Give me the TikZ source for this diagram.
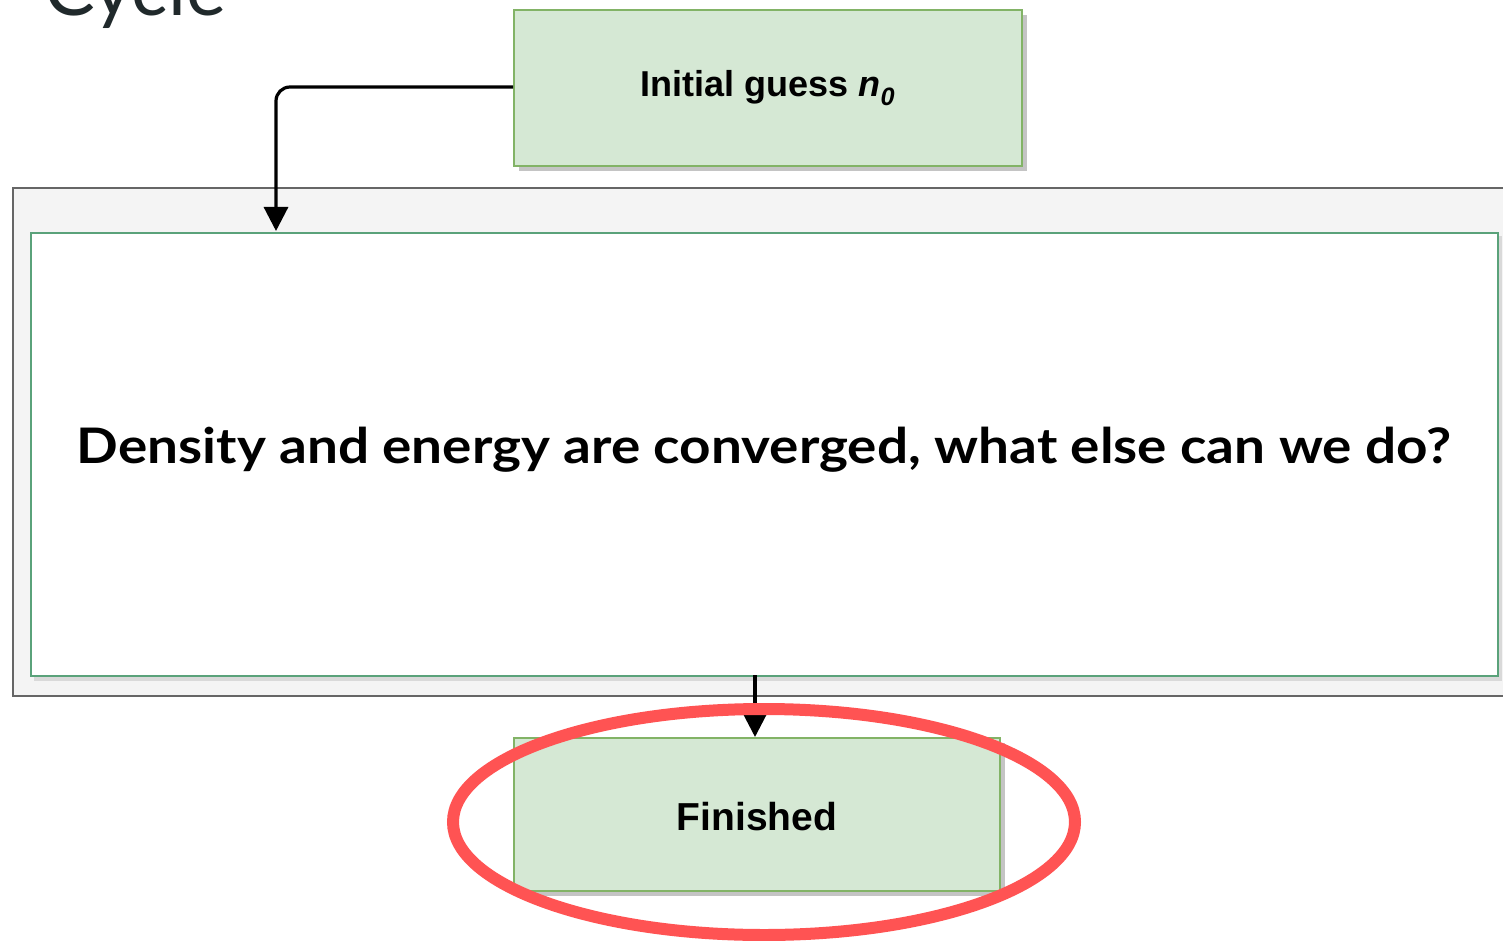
\documentclass[tikz,border=0pt]{standalone}
\usepackage{fontspec}
\setmainfont{Liberation Sans}
\newfontfamily\latofont{Lato}
\usetikzlibrary{arrows.meta}
\definecolor{gfill}{HTML}{D5E8D4}
\definecolor{gline}{HTML}{82B366}
\definecolor{tline}{HTML}{5AA27A}
\definecolor{outfill}{HTML}{F4F4F4}
\definecolor{outline}{HTML}{666666}
\definecolor{shadowc}{HTML}{C4C4C4}
\definecolor{redc}{HTML}{FF5353}
\definecolor{titlec}{HTML}{20292B}
\tikzset{
  greenbox/.style={draw=gline, fill=gfill, line width=1.6pt, inner sep=0pt},
  conn/.style={draw=black, line width=3.2pt, -{Triangle[length=24pt,width=24pt]}, rounded corners=14pt},
}
\begin{document}
\begin{tikzpicture}[x=1pt,y=-1pt]
\useasboundingbox (0,0) rectangle (1503,941);
\fill[white] (0,0) rectangle (1503,941);
% title
\node[anchor=base west, inner sep=0pt, text=titlec, font=\latofont\fontsize{76}{76}\selectfont] (title) at (44,16) {Cycle};
% outer container
\draw[fill=outfill, draw=outline, line width=1.8pt] (13,188) rectangle (1510,696);
% inner shadow
\fill[black!25, opacity=0.5] (34,236) rectangle (1502,681);
\node[draw=tline, fill=white, line width=2pt, minimum width=1467pt, minimum height=443pt, inner sep=0pt, anchor=north west] (main) at (30,232) {};
\node[font=\latofont\bfseries\fontsize{49}{49}\selectfont, inner sep=0pt] (maintext) at (764,450) {\scalebox{1.12}[1]{Density and energy are converged, what else can we do?}};
% initial guess box
\fill[shadowc] (519,15) rectangle (1027,171);
\node[greenbox, minimum width=508pt, minimum height=156pt, anchor=north west] (init) at (513,9) {};
\node[font=\bfseries\fontsize{36}{36}\selectfont] (inittext) at (init.center) {Initial guess \textit{n}\textsubscript{\textit{0}}};
% finished box
\fill[shadowc] (519,743) rectangle (1005,896);
\node[greenbox, minimum width=486pt, minimum height=153pt, anchor=north west] (fin) at (513,737) {};
\node[font=\bfseries\fontsize{39}{39}\selectfont] (fintext) at (757,817) {Finished};
% connectors
\coordinate (c1) at (276,87);
\coordinate (c2) at (276,231);
\coordinate (c3) at (755,675);
\coordinate (c4) at (755,737);
\draw[conn] (init.west |- c1) -- (c1) -- (c2);
\draw[conn] (c3) -- (c4);
% red ellipse
\draw[redc, line width=12pt] (764,822) ellipse [x radius=311pt, y radius=113pt];
\end{tikzpicture}
\end{document}
